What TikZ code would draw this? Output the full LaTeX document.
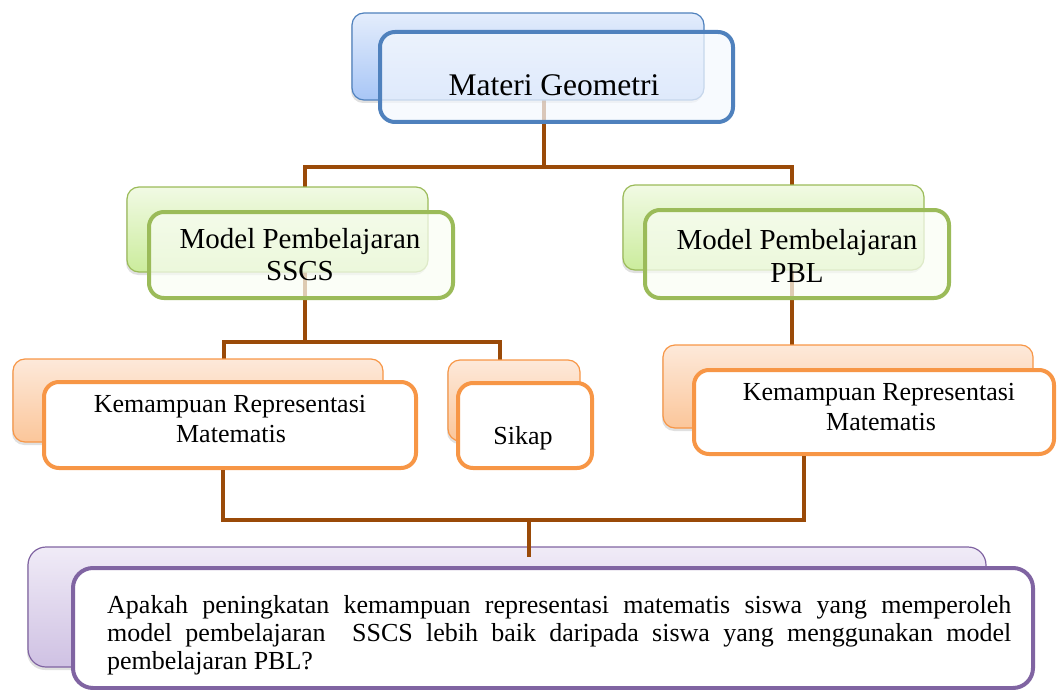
\documentclass[tikz,border=0pt]{standalone}
\usepackage{fontspec}
\setmainfont{Liberation Serif}
\usetikzlibrary{shadows}
\definecolor{brn}{HTML}{9A4A08}
\definecolor{bluL}{HTML}{4F81BD}
\definecolor{bluT}{HTML}{E4EDFC}
\definecolor{bluB}{HTML}{A8C6F6}
\definecolor{grnL}{HTML}{9BBB59}
\definecolor{grnT}{HTML}{F1FAE4}
\definecolor{grnB}{HTML}{CBEC9C}
\definecolor{orgL}{HTML}{F79646}
\definecolor{orgT}{HTML}{FDE9DA}
\definecolor{orgB}{HTML}{FBC69A}
\definecolor{purL}{HTML}{8064A2}
\definecolor{purT}{HTML}{F0EBF7}
\definecolor{purB}{HTML}{CFC1E3}
\tikzset{
  conn/.style={draw=brn,line width=4pt,line join=miter},
  backbox/.style={rectangle,inner sep=0pt,rounded corners=12pt,line width=1.2pt,
    drop shadow={shadow xshift=-1pt,shadow yshift=-3pt,opacity=0.12,fill=black}},
  frontbox/.style={rectangle,inner sep=0pt,rounded corners=15pt,line width=4pt},
  bback/.style={backbox,draw=bluL,top color=bluT,bottom color=bluB},
  gback/.style={backbox,draw=grnL,top color=grnT,bottom color=grnB},
  oback/.style={backbox,draw=orgL,top color=orgT,bottom color=orgB},
  pback/.style={backbox,draw=purL,top color=purT,bottom color=purB,rounded corners=18pt},
  bfront/.style={frontbox,draw=bluL,fill=bluT!40!white,fill opacity=0.72},
  gfront/.style={frontbox,draw=grnL,fill=grnT!40!white,fill opacity=0.72},
  ofront/.style={frontbox,draw=orgL,fill=white},
  pfront/.style={frontbox,draw=purL,fill=white,rounded corners=20pt},
  lbl/.style={anchor=base,inner sep=0pt},
  qline/.style={anchor=base west,inner sep=0pt,font=\fontsize{26}{29}\selectfont},
}
\begin{document}
\begin{tikzpicture}[x=1pt,y=-1pt]
\useasboundingbox (0,0) rectangle (1057,690);

% junction coordinates
\coordinate (jTop) at (544,167);
\coordinate (jTL) at (305,167);
\coordinate (jTR) at (792,167);
\coordinate (jML) at (305,342);
\coordinate (jMLa) at (224,342);
\coordinate (jMLb) at (500,342);
\coordinate (jBL) at (223,520);
\coordinate (jBR) at (804,520);
\coordinate (jBM) at (529,520);
\coordinate (jBE) at (529,557);

% box positions (invisible anchors for connectors)
\path node[rectangle,inner sep=0pt,minimum width=352pt,minimum height=87pt] (blueB) at (528,56.5) {};
\path node[rectangle,inner sep=0pt,minimum width=301pt,minimum height=85pt] (gLB) at (277.5,229.5) {};
\path node[rectangle,inner sep=0pt,minimum width=301pt,minimum height=85pt] (gRB) at (773.5,227.5) {};
\path node[rectangle,inner sep=0pt,minimum width=370pt,minimum height=83pt] (oLB) at (198,400.5) {};
\path node[rectangle,inner sep=0pt,minimum width=132pt,minimum height=81pt] (sB) at (514,400.5) {};
\path node[rectangle,inner sep=0pt,minimum width=370pt,minimum height=83pt] (oRB) at (848,386.5) {};

% upper connectors (behind boxes)
\draw[conn] (blueB.center -| jTop) -- (jTop);
\draw[conn] (jML) -- (jTL) -- (jTR) -- (oRB.north -| jTR);
\draw[conn] (jMLa |- oLB.north) -- (jMLa) -- (jMLb) -- (jMLb |- sB.north);

% back boxes over connectors
\node[bback,minimum width=352pt,minimum height=87pt] (blueB2) at (blueB) {};
\node[gback,minimum width=301pt,minimum height=85pt] (gLB2) at (gLB) {};
\node[gback,minimum width=301pt,minimum height=85pt] (gRB2) at (gRB) {};
\node[oback,minimum width=370pt,minimum height=83pt] (oLB2) at (oLB) {};
\node[oback,minimum width=132pt,minimum height=81pt] (sB2) at (sB) {};
\node[oback,minimum width=370pt,minimum height=83pt] (oRB2) at (oRB) {};

% front boxes
\node[bfront,minimum width=353pt,minimum height=90pt] (blueF) at (556.5,77) {};
\node[gfront,minimum width=304pt,minimum height=86pt] (gLF) at (301,255) {};
\node[gfront,minimum width=304pt,minimum height=88pt] (gRF) at (797,254) {};
\node[ofront,minimum width=372pt,minimum height=86pt] (oLF) at (230,425) {};
\node[ofront,minimum width=134pt,minimum height=85pt] (sF) at (525,425.5) {};
\node[ofront,minimum width=360pt,minimum height=84pt] (oRF) at (874,412) {};

% labels
\node[lbl,font=\fontsize{31.5}{36}\selectfont] (tMat) at (554,96) {Materi Geometri};
\node[lbl,font=\fontsize{29}{33}\selectfont] (tSa) at (300,248) {Model Pembelajaran};
\node[lbl,font=\fontsize{29}{33}\selectfont] (tSb) at (300,280) {SSCS};
\node[lbl,font=\fontsize{29}{33}\selectfont] (tPa) at (797,249) {Model Pembelajaran};
\node[lbl,font=\fontsize{29}{33}\selectfont] (tPb) at (797,282) {PBL};
\node[lbl,font=\fontsize{26}{29}\selectfont] (tKLa) at (230,412) {Kemampuan Representasi};
\node[lbl,font=\fontsize{26}{29}\selectfont] (tKLb) at (231,442) {Matematis};
\node[lbl,font=\fontsize{26}{29}\selectfont] (tSik) at (523,444) {Sikap};
\node[lbl,font=\fontsize{26}{29}\selectfont] (tKRa) at (879,400) {Kemampuan Representasi};
\node[lbl,font=\fontsize{26}{29}\selectfont] (tKRb) at (881,430) {Matematis};

% bottom part
\node[pback,minimum width=958pt,minimum height=120pt] (pB) at (507,607) {};
\draw[conn] (oLF.south -| jBL) -- (jBL) -- (jBR) -- (oRF.south -| jBR);
\draw[conn] (jBM) -- (jBE);
\node[pfront,minimum width=960pt,minimum height=120pt] (pF) at (553,628) {};

\node[qline] (q1) at (107,613) {\makebox[904pt][s]{Apakah peningkatan kemampuan representasi matematis siswa yang memperoleh}};
\node[qline] (q2) at (107,641) {\makebox[904pt][s]{model pembelajaran\ \ SSCS lebih baik daripada siswa yang menggunakan model}};
\node[qline] (q3) at (107,669) {pembelajaran PBL?};
\end{tikzpicture}
\end{document}
